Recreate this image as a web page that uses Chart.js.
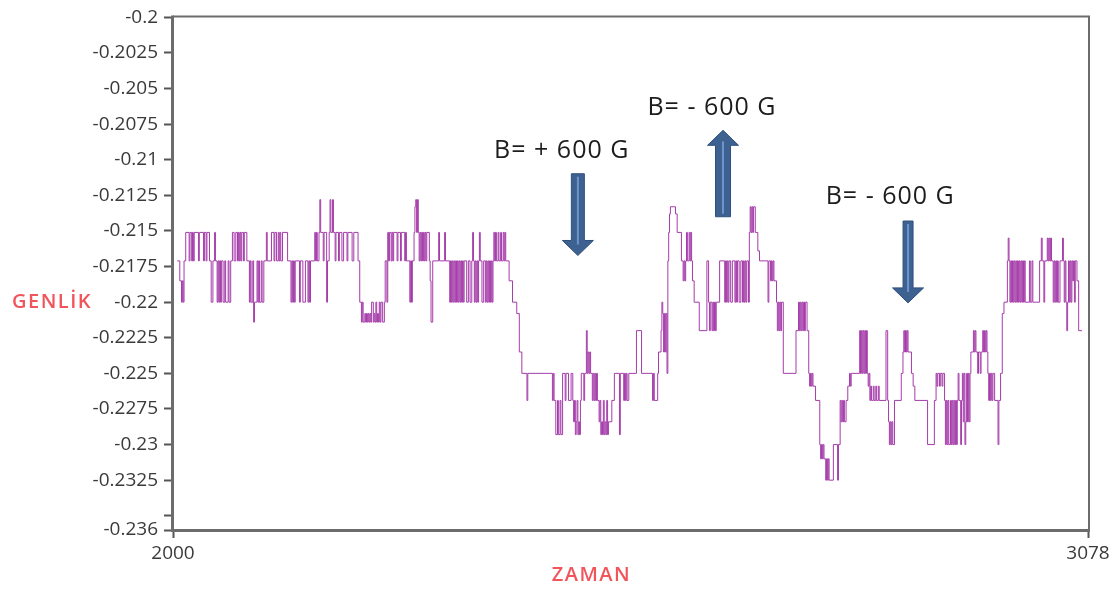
<!DOCTYPE html>
<html lang="tr">
<head>
<meta charset="utf-8">
<title>Genlik - Zaman</title>
<script src="https://cdn.jsdelivr.net/npm/chart.js@4.4.1/dist/chart.umd.min.js"></script>
<style>
  html, body { margin: 0; padding: 0; background: #ffffff; }
  #kutu { position: relative; width: 1117px; height: 589px; }
</style>
</head>
<body>
<div id="kutu"><canvas id="grafik" width="1117" height="589"></canvas></div>
<script>
// Measured amplitude: [time, amplitude] at every change of the stepped signal
const olcum = [
  [2005,-0.2171],[2008,-0.2185],[2010,-0.22],[2011,-0.2185],[2012,-0.22],[2013,-0.2171],[2015,-0.2151],[2019,-0.2171],[2020,-0.2151],[2022,-0.2171],
  [2023,-0.2151],[2024,-0.2171],[2025,-0.2151],[2030,-0.2171],[2031,-0.2151],[2036,-0.2171],[2037,-0.2151],[2039,-0.2171],[2040,-0.2151],[2043,-0.2171],
  [2045,-0.22],[2047,-0.2171],[2049,-0.2151],[2050,-0.2171],[2052,-0.22],[2053,-0.2171],[2054,-0.22],[2055,-0.2171],[2056,-0.22],[2057,-0.2171],
  [2059,-0.22],[2061,-0.2171],[2062,-0.22],[2065,-0.2171],[2066,-0.22],[2068,-0.2171],[2070,-0.2151],[2072,-0.2171],[2074,-0.2151],[2076,-0.2171],
  [2077,-0.2151],[2078,-0.2171],[2079,-0.2151],[2080,-0.2171],[2081,-0.2151],[2083,-0.2171],[2084,-0.2151],[2087,-0.2171],
  [2090,-0.22],[2091,-0.2171],[2092,-0.22],[2094,-0.2171],[2095,-0.2214],[2096,-0.22],[2099,-0.2171],[2100,-0.22],[2101,-0.2171],[2102,-0.22],
  [2104,-0.2171],[2105,-0.22],[2107,-0.2171],[2110,-0.2151],[2111,-0.2171],[2116,-0.2151],[2119,-0.2171],[2120,-0.2151],[2122,-0.2171],[2124,-0.2151],
  [2125,-0.2171],[2126,-0.2151],[2127,-0.2171],[2129,-0.2151],
  [2135,-0.2171],[2139,-0.22],[2140,-0.2171],[2141,-0.22],[2142,-0.2171],[2143,-0.22],[2144,-0.2171],[2149,-0.22],[2150,-0.2171],[2153,-0.22],
  [2156,-0.2171],[2159,-0.22],[2160,-0.2171],[2161,-0.22],[2162,-0.2171],
  [2167,-0.2151],[2168,-0.2171],[2169,-0.2151],[2170,-0.2171],[2172,-0.2151],[2173,-0.2128],[2174,-0.2151],[2177,-0.2171],[2178,-0.2151],[2181,-0.22],
  [2182,-0.2171],[2184,-0.2151],[2185,-0.2128],[2186,-0.2151],[2188,-0.2128],[2189,-0.2151],[2191,-0.2171],[2192,-0.2151],[2195,-0.2171],[2196,-0.2151],
  [2199,-0.2171],[2201,-0.2151],[2205,-0.2171],[2206,-0.2151],[2211,-0.2171],[2213,-0.2151],[2218,-0.2171],[2220,-0.22],
  [2222,-0.2214],[2223,-0.22],[2224,-0.2214],[2226,-0.2208],[2227,-0.2214],[2228,-0.2208],[2229,-0.2214],[2230,-0.2208],[2231,-0.2214],[2232,-0.2208],
  [2233,-0.2214],[2234,-0.22],[2236,-0.2214],[2237,-0.2208],[2238,-0.2214],[2239,-0.22],[2240,-0.2214],[2241,-0.2208],[2242,-0.2214],[2243,-0.22],
  [2244,-0.2214],[2245,-0.22],[2247,-0.2214],[2249,-0.22],
  [2250,-0.2171],[2252,-0.22],[2253,-0.2151],[2254,-0.2171],[2255,-0.2151],[2257,-0.2171],[2258,-0.2151],[2259,-0.2171],[2260,-0.2151],[2264,-0.2171],
  [2265,-0.2151],[2268,-0.2171],[2269,-0.2151],[2273,-0.2171],
  [2274,-0.2151],[2275,-0.2171],[2279,-0.22],[2280,-0.2171],[2281,-0.22],[2282,-0.2171],[2284,-0.2151],[2285,-0.2133],[2286,-0.2128],[2287,-0.2151],
  [2288,-0.2128],[2289,-0.2151],[2290,-0.2171],[2291,-0.2151],[2292,-0.2171],[2293,-0.2151],[2294,-0.2171],[2295,-0.2151],[2296,-0.2171],[2297,-0.2151],
  [2298,-0.2171],[2299,-0.2151],[2302,-0.2171],
  [2303,-0.2185],[2304,-0.2214],[2306,-0.2171],[2313,-0.2151],[2314,-0.2171],[2320,-0.2151],[2321,-0.2171],
  [2326,-0.22],[2327,-0.2171],[2328,-0.22],[2329,-0.2171],[2330,-0.22],[2331,-0.2171],[2332,-0.22],[2333,-0.2171],[2334,-0.22],[2335,-0.2171],
  [2336,-0.22],[2337,-0.2171],[2338,-0.22],[2339,-0.2171],[2340,-0.22],[2341,-0.2171],[2342,-0.22],[2343,-0.2171],
  [2346,-0.22],[2348,-0.2171],[2350,-0.22],[2352,-0.2171],[2353,-0.2151],[2354,-0.2171],[2355,-0.22],[2356,-0.2171],[2357,-0.22],[2358,-0.2171],
  [2359,-0.22],[2360,-0.2171],[2361,-0.2151],[2362,-0.2171],[2364,-0.22],[2366,-0.2171],[2368,-0.22],[2369,-0.2171],[2370,-0.22],[2371,-0.2171],
  [2372,-0.22],[2373,-0.2171],[2374,-0.22],[2375,-0.2171],[2376,-0.22],[2377,-0.2171],
  [2378,-0.2151],[2379,-0.2171],[2380,-0.2151],[2381,-0.2171],[2383,-0.2151],[2384,-0.2171],[2386,-0.2151],[2387,-0.2171],[2389,-0.2151],[2390,-0.2171],
  [2391,-0.2151],[2392,-0.2171],
  [2396,-0.2185],[2400,-0.22],[2405,-0.2208],[2408,-0.2235],[2411,-0.225],[2417,-0.2269],[2418,-0.225],
  [2447,-0.2269],[2448,-0.225],[2449,-0.2269],[2451,-0.2293],[2453,-0.2269],[2454,-0.2293],[2456,-0.2269],[2457,-0.2293],[2459,-0.225],[2462,-0.2269],
  [2463,-0.225],[2466,-0.2269],[2469,-0.225],[2471,-0.2269],[2472,-0.2284],[2473,-0.2269],[2474,-0.2293],[2475,-0.2284],[2476,-0.2269],[2477,-0.2293],
  [2478,-0.2284],[2479,-0.2293],[2480,-0.2269],[2481,-0.225],[2484,-0.2269],[2485,-0.225],[2487,-0.222],[2488,-0.225],[2489,-0.2235],[2490,-0.225],
  [2491,-0.2235],[2492,-0.225],[2494,-0.2269],[2495,-0.225],[2496,-0.2269],[2497,-0.225],[2498,-0.2269],[2499,-0.225],[2500,-0.2269],[2502,-0.2284],
  [2503,-0.2269],[2504,-0.2293],[2505,-0.2284],[2506,-0.2293],[2507,-0.2269],[2508,-0.2293],[2509,-0.2284],[2510,-0.2293],[2511,-0.2269],[2512,-0.2293],
  [2513,-0.2284],
  [2517,-0.2269],[2520,-0.225],[2526,-0.2293],[2527,-0.225],[2531,-0.2269],[2532,-0.225],[2533,-0.2269],[2534,-0.225],[2535,-0.2269],[2537,-0.225],
  [2546,-0.222],[2552,-0.225],[2565,-0.2269],[2566,-0.225],[2567,-0.2269],[2571,-0.225],[2572,-0.2235],[2575,-0.222],[2576,-0.22],[2577,-0.2208],
  [2578,-0.2235],[2579,-0.2208],[2580,-0.2235],[2581,-0.2208],[2582,-0.225],[2583,-0.2171],[2584,-0.2151],[2585,-0.2138],[2586,-0.2133],[2592,-0.2138],
  [2594,-0.2151],[2599,-0.2171],[2601,-0.2185],[2602,-0.2171],[2603,-0.2185],[2604,-0.2171],[2605,-0.2151],[2606,-0.2171],[2608,-0.2151],[2609,-0.2171],
  [2610,-0.2151],[2611,-0.2171],[2612,-0.2185],[2614,-0.22],[2620,-0.222],[2629,-0.2171],[2631,-0.22],[2632,-0.222],[2633,-0.22],[2635,-0.222],
  [2636,-0.22],[2637,-0.222],[2638,-0.22],[2639,-0.222],[2640,-0.22],[2644,-0.2171],
  [2650,-0.22],[2651,-0.2171],[2652,-0.22],[2653,-0.2171],[2654,-0.22],[2655,-0.2171],[2657,-0.22],[2659,-0.2171],[2662,-0.22],[2663,-0.2171],
  [2664,-0.22],[2665,-0.2171],[2667,-0.22],[2669,-0.2171],[2671,-0.22],[2672,-0.2171],[2673,-0.22],[2674,-0.2171],[2675,-0.22],[2676,-0.2171],
  [2678,-0.22],
  [2679,-0.2151],[2680,-0.2133],[2681,-0.2151],[2682,-0.2133],[2683,-0.2151],[2684,-0.2133],[2686,-0.2151],[2689,-0.2164],[2691,-0.2171],[2701,-0.22],
  [2702,-0.2171],[2704,-0.2185],[2705,-0.2171],[2706,-0.2185],[2707,-0.2171],[2708,-0.2185],
  [2711,-0.22],[2712,-0.222],[2713,-0.22],[2714,-0.222],[2715,-0.22],[2716,-0.222],[2717,-0.22],[2719,-0.225],[2734,-0.222],[2737,-0.22],
  [2738,-0.222],[2739,-0.22],[2740,-0.222],[2741,-0.22],[2742,-0.222],[2743,-0.22],[2744,-0.222],[2745,-0.22],[2747,-0.222],[2749,-0.225],
  [2750,-0.2259],[2751,-0.225],[2752,-0.2259],[2753,-0.225],[2754,-0.2259],
  [2757,-0.2269],[2762,-0.23],[2763,-0.231],[2764,-0.23],[2765,-0.231],[2766,-0.23],[2767,-0.231],[2769,-0.2325],[2770,-0.231],[2771,-0.2325],
  [2772,-0.231],[2773,-0.2325],[2778,-0.23],[2783,-0.2325],[2784,-0.23],[2786,-0.2269],[2787,-0.2284],[2788,-0.2269],[2789,-0.2284],[2790,-0.2269],
  [2791,-0.2284],[2793,-0.2269],[2795,-0.2259],[2797,-0.225],[2798,-0.2259],[2799,-0.225],
  [2809,-0.222],[2810,-0.225],[2811,-0.222],[2812,-0.225],[2813,-0.222],[2814,-0.225],[2815,-0.222],[2816,-0.225],[2817,-0.222],[2818,-0.225],
  [2819,-0.2259],[2820,-0.225],[2821,-0.2269],[2822,-0.2259],[2823,-0.2269],[2825,-0.2259],[2826,-0.2269],[2828,-0.2259],[2829,-0.2269],[2831,-0.2259],
  [2832,-0.2269],
  [2840,-0.222],[2842,-0.2269],[2843,-0.2284],[2844,-0.23],[2845,-0.2284],[2846,-0.23],[2847,-0.2284],[2848,-0.23],[2850,-0.2269],[2858,-0.225],
  [2860,-0.2235],[2861,-0.222],[2862,-0.2235],[2863,-0.222],[2864,-0.2235],[2865,-0.222],[2866,-0.2235],[2870,-0.225],[2872,-0.2259],[2874,-0.2269],
  [2889,-0.23],[2897,-0.2269],[2899,-0.225],[2900,-0.2259],[2901,-0.225],[2903,-0.2259],[2904,-0.225],[2906,-0.2259],[2907,-0.225],
  [2909,-0.2269],[2910,-0.23],[2911,-0.2269],[2912,-0.23],[2913,-0.2269],[2914,-0.23],[2916,-0.2269],[2917,-0.23],[2918,-0.2269],[2919,-0.23],
  [2920,-0.2269],[2921,-0.23],[2922,-0.2269],[2923,-0.23],[2924,-0.2269],[2925,-0.225],[2926,-0.2269],[2928,-0.23],[2929,-0.2269],[2930,-0.225],
  [2931,-0.2284],[2932,-0.225],[2933,-0.23],[2934,-0.2284],[2935,-0.225],[2936,-0.2284],[2937,-0.225],[2938,-0.2284],[2939,-0.225],
  [2940,-0.2235],[2943,-0.222],[2944,-0.2235],[2945,-0.222],[2946,-0.2235],[2948,-0.225],[2949,-0.2235],[2951,-0.225],[2952,-0.2235],[2954,-0.222],
  [2955,-0.2235],[2956,-0.222],[2957,-0.2235],[2958,-0.222],[2959,-0.2235],[2960,-0.225],[2961,-0.2269],[2962,-0.225],[2963,-0.2269],[2964,-0.225],
  [2965,-0.2269],[2966,-0.225],[2968,-0.2269],[2972,-0.23],[2973,-0.2269],[2975,-0.225],[2977,-0.2208],[2979,-0.22],
  [2983,-0.2171],[2984,-0.2155],[2985,-0.2171],[2986,-0.22],[2987,-0.2171],[2988,-0.22],[2989,-0.2171],[2990,-0.22],[2991,-0.2171],[2992,-0.22],
  [2993,-0.2171],[2994,-0.22],[2995,-0.2171],[2996,-0.22],[2997,-0.2171],[2998,-0.22],[2999,-0.2171],[3000,-0.22],[3001,-0.2171],[3002,-0.22],
  [3003,-0.2171],[3004,-0.22],
  [3009,-0.2171],[3010,-0.22],[3012,-0.2171],[3013,-0.22],
  [3021,-0.2171],[3023,-0.2155],[3024,-0.2171],[3026,-0.22],[3027,-0.2171],[3030,-0.2155],[3031,-0.2171],[3032,-0.2155],[3033,-0.2171],[3034,-0.2155],
  [3035,-0.2171],[3037,-0.22],[3038,-0.2171],[3039,-0.22],[3040,-0.2171],[3041,-0.22],[3042,-0.2171],[3043,-0.22],[3045,-0.2171],[3048,-0.2155],
  [3049,-0.2171],[3050,-0.22],[3051,-0.2171],[3052,-0.22],[3053,-0.222],[3054,-0.22],[3055,-0.2171],[3056,-0.22],[3057,-0.2171],[3058,-0.22],
  [3059,-0.2171],[3060,-0.2185],[3061,-0.2171],[3062,-0.22],[3063,-0.2171],[3065,-0.2185],[3067,-0.222],[3071,-0.222]
];

// Axis ticks
const yTicks = [-0.2, -0.2025, -0.205, -0.2075, -0.21, -0.2125, -0.215, -0.2175, -0.22, -0.2225, -0.225, -0.2275, -0.23, -0.2325, -0.235, -0.236];
const yTickLabels = ['-0.2', '-0.2025', '-0.205', '-0.2075', '-0.21', '-0.2125', '-0.215', '-0.2175', '-0.22', '-0.2225', '-0.225', '-0.2275', '-0.23', '-0.2325', '', '-0.236'];
const xTicks = [2000, 3078];
const xTickLabels = ['2000', '3078'];

// Field annotations (text anchored in data units)
const alanYazilari = ['B= + 600 G', 'B= - 600 G', 'B= - 600 G'];
const yaziZaman = [2458, 2635, 2845];
const yaziGenlik = [-0.20987, -0.20684, -0.21309];

// Arrows: time, start amplitude, tip amplitude, shaft width
const okZaman = [2477, 2648, 2866];
const okBaslangic = [-0.21098, -0.214, -0.2143];
const okUc = [-0.21672, -0.20793, -0.22005];
const okGovde = [13, 15, 10];

const FONT = "'Open Sans', 'Noto Sans', sans-serif";

function okCiz(ctx, cx, y0, y1, govde) {
  const bas = 31, basBoy = 15;
  const d = Math.sign(y1 - y0);
  const yb = y1 - d * basBoy;
  ctx.beginPath();
  ctx.moveTo(cx - govde / 2, y0);
  ctx.lineTo(cx - govde / 2, yb);
  ctx.lineTo(cx - bas / 2, yb);
  ctx.lineTo(cx, y1);
  ctx.lineTo(cx + bas / 2, yb);
  ctx.lineTo(cx + govde / 2, yb);
  ctx.lineTo(cx + govde / 2, y0);
  ctx.closePath();
  ctx.fillStyle = '#3d6190';
  ctx.fill();
  ctx.strokeStyle = '#30507c';
  ctx.lineWidth = 1;
  ctx.stroke();
  ctx.beginPath();
  ctx.moveTo(cx, y0 + d * 3);
  ctx.lineTo(cx, yb + d * 4);
  ctx.strokeStyle = 'rgba(118, 158, 214, 0.85)';
  ctx.lineWidth = 2;
  ctx.stroke();
}

const cizimler = {
  id: 'cizimler',
  afterDatasetsDraw(chart) {
    const { ctx, chartArea: a, scales: { x, y } } = chart;
    ctx.save();
    // plot frame
    ctx.strokeStyle = '#6c6c6c';
    ctx.lineWidth = 2;
    ctx.beginPath();
    ctx.moveTo(a.left, a.top - 1);
    ctx.lineTo(a.right + 2, a.top - 1);
    ctx.moveTo(a.right + 1, a.top - 2);
    ctx.lineTo(a.right + 1, a.bottom + 2);
    ctx.stroke();
    ctx.lineWidth = 3;
    ctx.beginPath();
    ctx.moveTo(a.left - 0.5, a.top - 2);
    ctx.lineTo(a.left - 0.5, a.bottom + 2);
    ctx.moveTo(a.left - 2, a.bottom + 0.5);
    ctx.lineTo(a.right + 2, a.bottom + 0.5);
    ctx.stroke();

    // arrows
    okZaman.forEach((t, i) => {
      okCiz(ctx, x.getPixelForValue(t), y.getPixelForValue(okBaslangic[i]), y.getPixelForValue(okUc[i]), okGovde[i]);
    });

    // annotation text
    ctx.fillStyle = '#1d1d1d';
    ctx.font = '25px ' + FONT;
    ctx.textAlign = 'center';
    ctx.textBaseline = 'alphabetic';
    if ('letterSpacing' in ctx) ctx.letterSpacing = '1px';
    alanYazilari.forEach((s, i) => {
      ctx.fillText(s, x.getPixelForValue(yaziZaman[i]), y.getPixelForValue(yaziGenlik[i]));
    });

    // axis titles
    ctx.fillStyle = '#f2545c';
    ctx.font = '600 20px ' + FONT;
    ctx.textBaseline = 'middle';
    if ('letterSpacing' in ctx) ctx.letterSpacing = '1.5px';
    ctx.textAlign = 'left';
    ctx.fillText('GENLİK', 12, y.getPixelForValue(-0.22));
    ctx.textAlign = 'center';
    ctx.fillText('ZAMAN', x.getPixelForValue(2493), 575);
    ctx.restore();
  }
};

new Chart(document.getElementById('grafik'), {
  type: 'line',
  data: {
    datasets: [{
      data: olcum.map(([t, g]) => ({ x: t, y: g })),
      borderColor: '#a43ca9',
      borderWidth: 1,
      pointRadius: 0,
      stepped: true,
      fill: false
    }]
  },
  options: {
    responsive: false,
    animation: false,
    devicePixelRatio: 1,
    layout: { padding: { left: 0, right: 29, top: 12, bottom: 0 } },
    plugins: { legend: { display: false }, tooltip: { enabled: false } },
    scales: {
      x: {
        type: 'linear',
        min: 2000,
        max: 3078,
        afterBuildTicks: s => { s.ticks = xTicks.map(v => ({ value: v })); },
        afterFit: s => { s.height = 59; },
        border: { display: false },
        grid: { drawOnChartArea: false, drawTicks: true, tickLength: 8, tickColor: '#555555', tickWidth: 2 },
        ticks: {
          autoSkip: false,
          maxRotation: 0,
          padding: 4,
          color: '#3a3a3a',
          font: { family: FONT, size: 19 },
          callback: (v, i) => xTickLabels[i]
        }
      },
      y: {
        type: 'linear',
        min: -0.236,
        max: -0.2,
        afterBuildTicks: s => { s.ticks = yTicks.map(v => ({ value: v })); },
        afterFit: s => { s.width = 173; },
        border: { display: false },
        grid: { drawOnChartArea: false, drawTicks: true, tickLength: 9, tickColor: '#555555', tickWidth: 2 },
        ticks: {
          autoSkip: false,
          padding: 6,
          color: '#3a3a3a',
          font: { family: FONT, size: 19 },
          callback: (v, i) => yTickLabels[i]
        }
      }
    }
  },
  plugins: [cizimler]
});
</script>
</body>
</html>
